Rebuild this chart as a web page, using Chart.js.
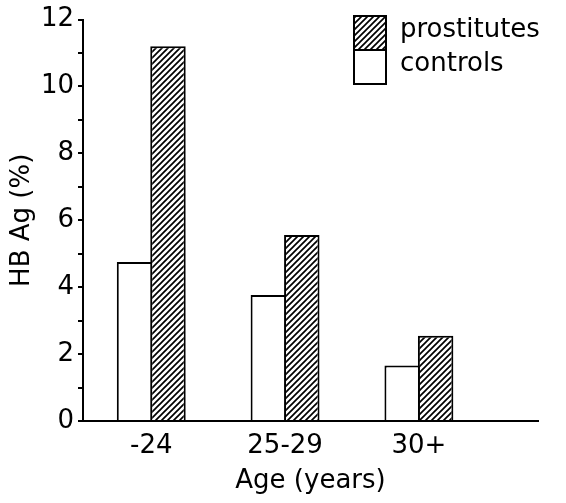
<!DOCTYPE html>
<html>
<head>
<meta charset="utf-8">
<script src="https://cdn.jsdelivr.net/npm/chart.js@4.4.1/dist/chart.umd.min.js"></script>
<style>
body { margin: 0; background: #fff; }
</style>
</head>
<body>
<canvas id="bar-chart" width="566" height="503"></canvas>
<script>
var ageGroups = ["-24", "25-29", "30+"];
var controls = [4.75, 3.77, 1.66];
var prostitutes = [11.2, 5.56, 2.55];
var yLabels = [0, 2, 4, 6, 8, 10, 12];

// diagonal hatching like the print
function hatch(){
    var c = document.createElement("canvas");
    c.width = 6; c.height = 6;
    var g = c.getContext("2d");
    g.fillStyle = "#fff";
    g.fillRect(0, 0, 6, 6);
    g.strokeStyle = "#000";
    g.lineWidth = 1.7;
    g.beginPath();
    g.moveTo(-1, 1); g.lineTo(1, -1);
    g.moveTo(-1, 7); g.lineTo(7, -1);
    g.moveTo(5, 7); g.lineTo(7, 5);
    g.stroke();
    return g.createPattern(c, "repeat");
}

function points(arr){
    return arr.map(function(v, i){ return {x: i + 1, y: v}; });
}

// stacked legend boxes, top right
var boxLegend = {
    id: "boxLegend",
    afterDraw: function(chart){
        var ctx = chart.ctx;
        var order = [1, 0];
        ctx.save();
        ctx.font = "26px 'DejaVu Sans'";
        ctx.textBaseline = "middle";
        ctx.textAlign = "left";
        order.forEach(function(di, row){
            var ds = chart.data.datasets[di];
            var y = 16 + row * 34;
            ctx.fillStyle = ds.backgroundColor;
            ctx.fillRect(354, y, 32, 34);
            ctx.lineWidth = 2;
            ctx.strokeStyle = "#000";
            ctx.strokeRect(354, y, 32, 34);
            ctx.fillStyle = "#000";
            ctx.fillText(ds.label, 400, y + 14);
        });
        ctx.restore();
    }
};

Chart.defaults.font.family = "'DejaVu Sans'";
Chart.defaults.font.size = 26;
Chart.defaults.color = "#000";

var ctx = document.getElementById("bar-chart");
var chartGraph = new Chart(ctx, {
    type: "bar",
    data: {
        datasets: [{
            label: "controls",
            data: points(controls),
            backgroundColor: "#fff",
            borderColor: "#000",
            borderWidth: 2
        }, {
            label: "prostitutes",
            data: points(prostitutes),
            backgroundColor: hatch(),
            borderColor: "#000",
            borderWidth: 2
        }]
    },
    options: {
        responsive: false,
        animation: false,
        categoryPercentage: 0.5,
        barPercentage: 1.06,
        layout: { padding: { top: 16, right: 28, bottom: 0, left: 0 } },
        plugins: {
            legend: { display: false },
            tooltip: { enabled: false }
        },
        scales: {
            x: {
                type: "linear",
                offset: false,
                min: 0.49,
                max: 3.89,
                afterBuildTicks: function(s){
                    s.ticks = ageGroups.map(function(_, i){ return {value: i + 1}; });
                },
                afterFit: function(s){ s.height = 82; },
                ticks: {
                    callback: function(v){ return ageGroups[v - 1]; },
                    padding: 10,
                    maxRotation: 0,
                    autoSkip: false
                },
                grid: { offset: false, drawOnChartArea: false, drawTicks: false },
                border: { display: true, color: "#000", width: 2 },
                title: { display: true, text: "Age (years)", padding: { top: 0, bottom: 6 } }
            },
            y: {
                min: 0,
                max: 12,
                afterFit: function(s){ s.width = 83; },
                ticks: {
                    stepSize: 1,
                    autoSkip: false,
                    padding: 4,
                    callback: function(v){ return yLabels.indexOf(v) >= 0 ? v : ""; }
                },
                grid: { drawOnChartArea: false, drawTicks: true, tickLength: 5, color: "#000", lineWidth: 2 },
                border: { display: true, color: "#000", width: 2 },
                title: { display: true, text: "HB Ag (%)", padding: { top: 7, bottom: 0 } }
            }
        }
    },
    plugins: [boxLegend]
});
</script>
</body>
</html>
